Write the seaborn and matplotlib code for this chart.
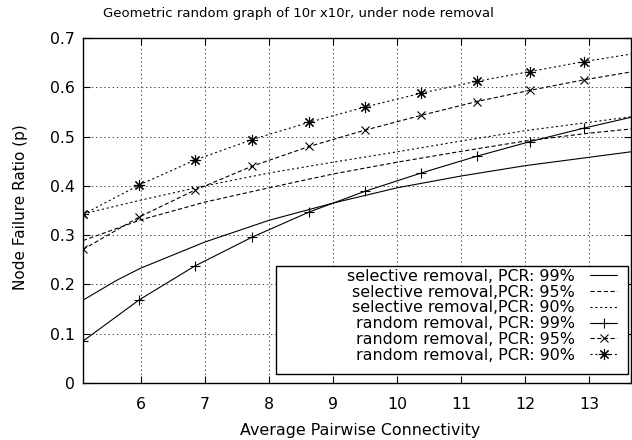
import matplotlib
matplotlib.use("Agg")
import matplotlib.pyplot as plt
from matplotlib.patches import Rectangle
import seaborn as sns
import pandas as pd

# ---- data ----
rand_x = [5.1, 5.98, 6.84, 7.74, 8.63, 9.5, 10.375, 11.24, 12.08, 12.91, 13.78]
rand_99 = [0.085, 0.169, 0.237, 0.296, 0.347, 0.389, 0.426, 0.460, 0.490, 0.517, 0.543]
rand_95 = [0.271, 0.337, 0.391, 0.440, 0.480, 0.513, 0.543, 0.571, 0.594, 0.615, 0.634]
rand_90 = [0.342, 0.402, 0.452, 0.494, 0.529, 0.560, 0.588, 0.612, 0.632, 0.652, 0.670]

sel99_x = [5.1, 5.62, 6, 7, 8, 9, 10, 11, 12, 13, 13.7]
sel_99 = [0.168, 0.208, 0.233, 0.286, 0.330, 0.365, 0.396, 0.420, 0.441, 0.458, 0.470]
sel_x = [5.1, 6, 7, 8, 9, 10, 11, 12, 13, 13.7]
sel_95 = [0.289, 0.331, 0.367, 0.396, 0.424, 0.448, 0.470, 0.491, 0.507, 0.516]
sel_90 = [0.343, 0.371, 0.400, 0.426, 0.448, 0.469, 0.491, 0.512, 0.529, 0.541]

labels = ["selective removal, PCR: 99%", "selective removal,PCR: 95%",
          "selective removal,PCR: 90%", "random removal, PCR: 99%",
          "random removal, PCR: 95%", "random removal, PCR: 90%"]
x_ticks = [6, 7, 8, 9, 10, 11, 12, 13]
y_ticks = [0, 0.1, 0.2, 0.3, 0.4, 0.5, 0.6, 0.7]
y_ticklabels = ["0", "0.1", "0.2", "0.3", "0.4", "0.5", "0.6", "0.7"]

title = "Geometric random graph of 10r x10r, under node removal"
xlabel = "Average Pairwise Connectivity"
ylabel = "Node Failure Ratio (p)"

# ---- style ----
sns.set_theme(style="white")
plt.rcParams["font.family"] = ["DejaVu Sans"]
plt.rcParams["lines.scale_dashes"] = False
plt.rcParams["text.color"] = "black"
plt.rcParams["axes.labelcolor"] = "black"

fig = plt.figure(figsize=(6.32, 4.40), dpi=100)
ax = fig.add_axes([83 / 632, 1 - 383 / 440, (631 - 83) / 632, (383 - 38) / 440])

series = [
    (sel99_x, sel_99, labels[0], "-", None, 0),
    (sel_x, sel_95, labels[1], (0, (3.0, 1.8)), None, 0),
    (sel_x, sel_90, labels[2], (0, (1.5, 2.0)), None, 0),
    (rand_x, rand_99, labels[3], "-", "+", 6.5),
    (rand_x, rand_95, labels[4], (0, (3.0, 1.8)), "x", 6.0),
    (rand_x, rand_90, labels[5], (0, (1.5, 2.0)), (8, 2, 0), 8.0),
]

for xs, ys, lab, ls, mk, ms in series:
    df = pd.DataFrame({"x": xs, "y": ys})
    kw = dict(color="black", linewidth=0.8, linestyle=ls, label=lab,
              estimator=None, sort=False, ax=ax)
    if mk is not None:
        kw.update(marker=mk, markersize=ms, markeredgecolor="black",
                  markerfacecolor="black", markeredgewidth=0.8)
    sns.lineplot(data=df, x="x", y="y", **kw)

ax.set_xlim(5.1, 13.65)
ax.set_ylim(0, 0.7)
ax.set_xticks(x_ticks)
ax.set_xticklabels([str(t) for t in x_ticks])
ax.set_yticks(y_ticks)
ax.set_yticklabels(y_ticklabels)

ax.grid(True, linestyle=(0, (1, 2)), color="black", linewidth=0.5)
for s in ax.spines.values():
    s.set_color("black")
    s.set_linewidth(1.0)
ax.tick_params(axis="both", direction="in", length=5, width=0.8,
               top=True, right=True, bottom=True, left=True,
               labelsize=11.3, colors="black")
ax.tick_params(axis="x", pad=10)
ax.tick_params(axis="y", pad=6)

ax.set_xlabel(xlabel, fontsize=11.4, color="black")
ax.xaxis.set_label_coords(0.505, -0.115)
ax.set_ylabel(ylabel, fontsize=11.0, color="black")
ax.yaxis.set_label_coords(-0.101, 0.509)

fig.text(298 / 632, 1 - 13 / 440, title, ha="center", va="center",
         fontsize=9.5, color="black")

# legend box (gnuplot-style key with wide left padding)
box = Rectangle((0.352, 0.026), 0.9945 - 0.352, 0.339 - 0.026,
                transform=ax.transAxes, facecolor="white", edgecolor="black",
                linewidth=1.0, zorder=4)
ax.add_patch(box)

leg = ax.legend(loc="upper right", bbox_to_anchor=(0.9745, 0.331),
                borderaxespad=0, markerfirst=False, frameon=False,
                fontsize=11.4, handlelength=1.7, handletextpad=0.95,
                labelspacing=0.05, borderpad=0, labelcolor="black")
leg.set_zorder(5)

fig.savefig("out.png", dpi=100)
